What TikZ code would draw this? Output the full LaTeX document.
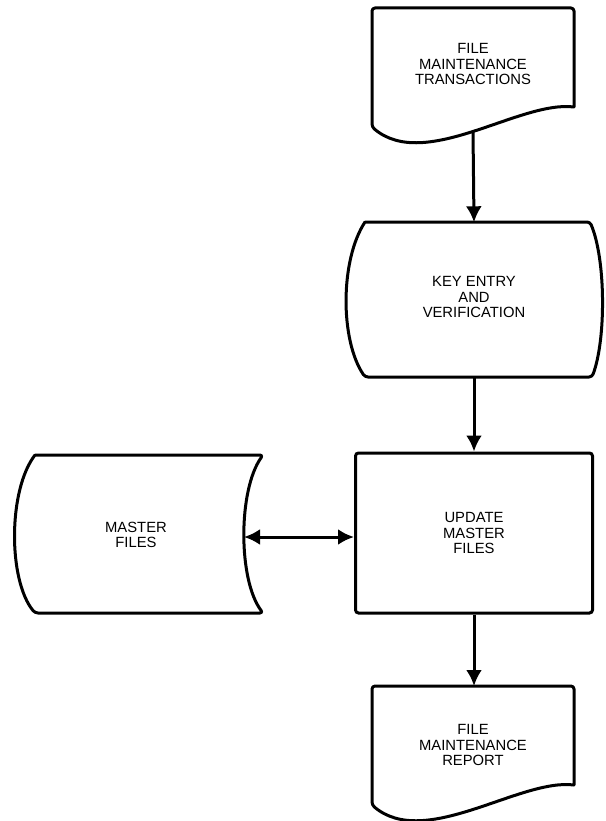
\documentclass[tikz,border=0pt]{standalone}
\usepackage{fontspec}
\setmainfont{Liberation Sans}
\usetikzlibrary{arrows.meta}

\begin{document}
\begin{tikzpicture}[x=1pt, y=-1pt,
    outline_style/.style={line width=3pt, line join=round, line cap=round, rounded corners=3pt},
    label_style/.style={align=center, font=\fontsize{14.8}{15.5}\selectfont, inner sep=0pt},
    flow_style/.style={line width=3pt, -{Latex[length=16pt,width=16pt]}},
    both_style/.style={line width=3pt, {Latex[length=16pt,width=16pt]}-{Latex[length=16pt,width=16pt]}}
]
\useasboundingbox (0,0) rectangle (605,821);
% Document: transactions
\begin{scope}[shift={(0,0)}]
    \draw[outline_style] (574,107) -- (574,8) -- (372,8) -- (372,127)
        .. controls (425,172) and (520,100) .. (574,107);
\end{scope}
\node[label_style] (trans) at (473,64) {FILE\\MAINTENANCE\\TRANSACTIONS};
\coordinate (trans-out) at (473,132);
% Key entry
\node[minimum width=230pt, minimum height=155pt, inner sep=0pt] (key) at (474,300) {};
\draw[outline_style] (365,222) -- (590,222)
    .. controls (606,260) and (606,340) .. (592,377) -- (365,377)
    .. controls (340,340) and (340,260) .. (365,222);
\node[label_style] at (key.center) [yshift=3pt] {KEY ENTRY\\AND\\VERIFICATION};
% Update
\node[label_style, draw, line width=3pt, rounded corners=3pt,
      minimum width=237pt, minimum height=160pt] (update) at (474,533) {UPDATE\\MASTER\\FILES};
% Master files
\draw[outline_style] (35,455) -- (263,455)
    .. controls (238,490) and (238,580) .. (263,613) -- (35,613)
    .. controls (8,580) and (8,490) .. (35,455);
\node[label_style] (master) at (136,535) {MASTER\\FILES};
\coordinate (master-e) at (244,537);
% Document: report
\begin{scope}[shift={(0,678)}]
    \draw[outline_style] (574,107) -- (574,8) -- (372,8) -- (372,127)
        .. controls (425,172) and (520,100) .. (574,107);
\end{scope}
\node[label_style] (report) at (473,745) {FILE\\MAINTENANCE\\REPORT};
\coordinate (report-in) at (474,686);
% Connectors
\draw[flow_style] (trans-out) -- (key.north);
\draw[flow_style] (key.south) -- (update.north);
\draw[both_style] (master-e) -- (master-e -| update.west);
\draw[flow_style] (update.south) -- (report-in);
\end{tikzpicture}
\end{document}
